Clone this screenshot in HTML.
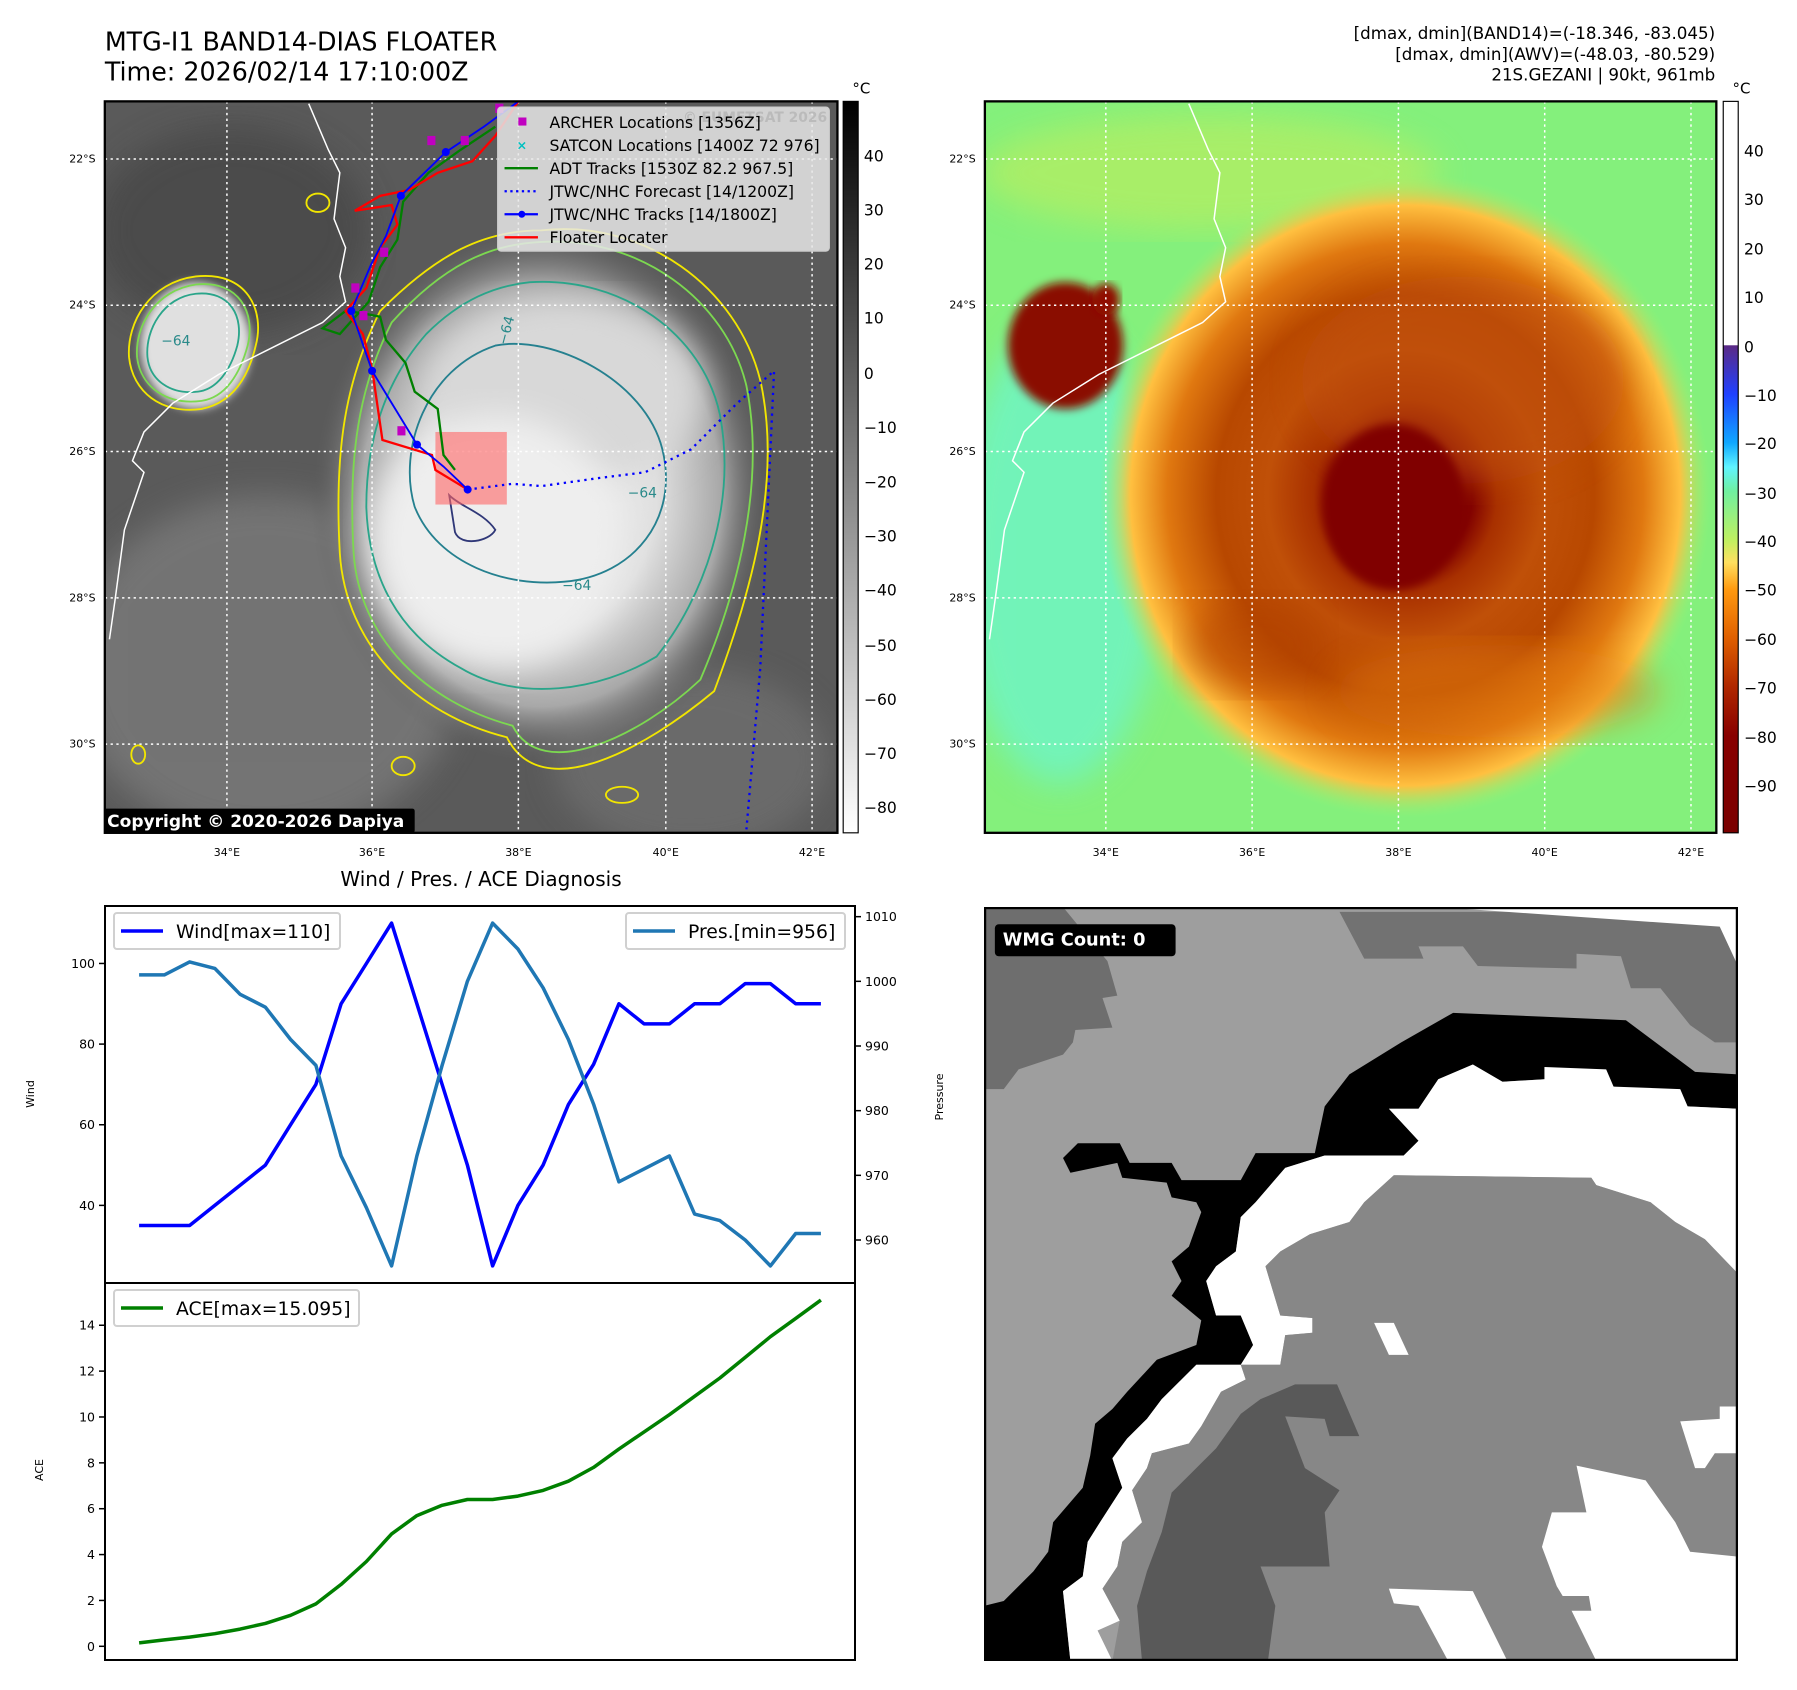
<!DOCTYPE html>
<html><head><meta charset="utf-8"><style>
html,body{margin:0;padding:0;background:#fff;}
svg{display:block;font-family:"DejaVu Sans","Liberation Sans",sans-serif;}
</style></head><body>
<svg id="root" width="1797" height="1690" viewBox="0 0 1797 1690" xmlns="http://www.w3.org/2000/svg">
<defs>
<filter id="blur8"><feGaussianBlur stdDeviation="8"/></filter>
<filter id="blur4"><feGaussianBlur stdDeviation="4"/></filter>
<filter id="blur14"><feGaussianBlur stdDeviation="14"/></filter>
<clipPath id="clipL"><rect x="91" y="88" width="636" height="635"/></clipPath>
<clipPath id="clipR"><rect x="855" y="88" width="635" height="635"/></clipPath>
<clipPath id="clipW"><rect x="0" y="0" width="1527" height="1532"/></clipPath>
<radialGradient id="cloud" cx="0.5" cy="0.5" r="0.5">
<stop offset="0" stop-color="#f4f4f4"/><stop offset="0.5" stop-color="#e0e0e0"/><stop offset="0.78" stop-color="#a8a8a8"/><stop offset="1" stop-color="#5a5a5a" stop-opacity="0"/></radialGradient>
<radialGradient id="storm" cx="0.5" cy="0.5" r="0.5">
<stop offset="0" stop-color="#800000"/><stop offset="0.22" stop-color="#820200"/><stop offset="0.3" stop-color="#a83000"/><stop offset="0.45" stop-color="#c05008"/><stop offset="0.62" stop-color="#b84800"/><stop offset="0.78" stop-color="#e07810"/><stop offset="0.9" stop-color="#ffc040"/><stop offset="1" stop-color="#a0f070" stop-opacity="0"/></radialGradient>
<linearGradient id="cbL" x1="0" y1="0" x2="0" y2="1"><stop offset="0" stop-color="#000"/><stop offset="1" stop-color="#fff"/></linearGradient>
<linearGradient id="cbR" x1="0" y1="0" x2="0" y2="1">
<stop offset="0" stop-color="#fff"/><stop offset="0.333" stop-color="#fff"/><stop offset="0.334" stop-color="#5b2a86"/><stop offset="0.4" stop-color="#2040ff"/><stop offset="0.467" stop-color="#10a8ff"/><stop offset="0.5" stop-color="#60f4ff"/><stop offset="0.533" stop-color="#70f0a0"/><stop offset="0.6" stop-color="#c0f060"/><stop offset="0.63" stop-color="#ffe060"/><stop offset="0.667" stop-color="#ff9a10"/><stop offset="0.733" stop-color="#e06000"/><stop offset="0.8" stop-color="#b02800"/><stop offset="0.867" stop-color="#880000"/><stop offset="1" stop-color="#7a0000"/></linearGradient>
</defs>

<g transform="scale(1.1519)">
<text x="91" y="44" font-size="22">MTG-I1 BAND14-DIAS FLOATER</text>
<text x="91" y="70" font-size="22">Time: 2026/02/14 17:10:00Z</text>
<g font-size="14.5" text-anchor="end">
<text x="1489" y="34">[dmax, dmin](BAND14)=(-18.346, -83.045)</text>
<text x="1489" y="52">[dmax, dmin](AWV)=(-48.03, -80.529)</text>
<text x="1489" y="70">21S.GEZANI | 90kt, 961mb</text>
</g>

<!-- LEFT MAP -->
<g clip-path="url(#clipL)">
<rect x="91" y="88" width="636" height="635" fill="#5a5a5a"/>
<ellipse cx="230" cy="580" rx="170" ry="150" fill="#858585" opacity="0.6" filter="url(#blur14)"/>
<ellipse cx="600" cy="660" rx="120" ry="80" fill="#767676" opacity="0.6" filter="url(#blur14)"/>
<ellipse cx="200" cy="200" rx="120" ry="90" fill="#444" opacity="0.7" filter="url(#blur14)"/>
<ellipse cx="470" cy="430" rx="200" ry="235" fill="url(#cloud)"/>
<ellipse cx="490" cy="340" rx="120" ry="80" fill="#d8d8d8" filter="url(#blur14)"/>
<ellipse cx="430" cy="470" rx="110" ry="110" fill="#eeeeee" filter="url(#blur14)"/>
<ellipse cx="170" cy="300" rx="48" ry="55" fill="#e0e0e0" filter="url(#blur4)"/>
<g fill="none" stroke-width="1.6">
<path d="M470 200 C560 190 640 250 660 330 C680 420 650 520 620 600 C560 650 470 700 440 640 C360 620 300 560 295 480 C290 390 300 330 330 270 C380 220 420 200 470 200Z" stroke="#f2e600"/>
<path d="M470 210 C555 205 630 260 648 335 C665 420 640 515 608 590 C555 640 470 680 445 630 C370 610 312 555 307 480 C302 395 312 335 340 280 C385 230 425 212 470 210Z" stroke="#7cd850"/>
<path d="M460 245 C540 240 610 290 625 360 C640 440 610 520 570 570 C520 600 450 610 400 580 C345 550 320 500 318 440 C318 380 335 330 370 290 C400 260 430 248 460 245Z" stroke="#2aa58a"/>
<path d="M430 300 C480 290 560 330 575 390 C590 450 550 500 490 505 C440 510 380 490 360 440 C345 390 370 320 430 300Z" stroke="#25808f"/>
<path d="M390 430 C400 440 420 445 430 460 C425 470 400 475 395 462 Z" stroke="#303878"/>
<path d="M170 240 C215 235 230 270 222 300 C215 330 200 350 175 355 C140 360 115 340 112 310 C110 280 130 245 170 240Z" stroke="#f2e600"/>
<path d="M170 247 C208 243 222 272 215 300 C208 326 195 345 175 348 C145 352 122 336 119 310 C117 283 135 252 170 247Z" stroke="#7cd850"/>
<path d="M170 255 C200 252 212 275 206 300 C200 322 188 338 172 340 C148 343 130 330 128 310 C126 286 142 258 170 255Z" stroke="#2aa58a"/>
<ellipse cx="276" cy="176" rx="10" ry="8" stroke="#f2e600"/>
<ellipse cx="540" cy="690" rx="14" ry="7" stroke="#f2e600"/>
<ellipse cx="350" cy="665" rx="10" ry="8" stroke="#f2e600"/>
<ellipse cx="120" cy="655" rx="6" ry="8" stroke="#f2e600"/>
</g>
<g font-size="12" fill="#2a8a8a"><text x="440" y="300" transform="rotate(-75 440 300)">−64</text><text x="545" y="432">−64</text><text x="488" y="512">−64</text><text x="140" y="300">−64</text></g>
<g stroke="#fff" stroke-width="1.3" stroke-dasharray="2,3">
<line x1="197" y1="88" x2="197" y2="723"/><line x1="323" y1="88" x2="323" y2="723"/><line x1="450" y1="88" x2="450" y2="723"/><line x1="578" y1="88" x2="578" y2="723"/><line x1="705" y1="88" x2="705" y2="723"/>
<line x1="91" y1="138" x2="727" y2="138"/><line x1="91" y1="265" x2="727" y2="265"/><line x1="91" y1="392" x2="727" y2="392"/><line x1="91" y1="519" x2="727" y2="519"/><line x1="91" y1="646" x2="727" y2="646"/>
</g>
<path d="M268 90 L285 130 L295 150 L290 190 L300 215 L295 240 L300 262 L280 280 L230 305 L190 325 L150 350 L125 375 L115 400 L125 410 L108 460 L100 520 L95 555" fill="none" stroke="#fff" stroke-width="1.3"/>
<rect x="378" y="375" width="62" height="63" fill="#ff6666" opacity="0.6"/>
<path d="M406 425 L445 420 L470 422 L520 415 L560 410 L600 390 L640 350 L672 322 L660 580 L648 720" fill="none" stroke="#0000ff" stroke-width="2" stroke-dasharray="2,4"/>
<path d="M395 408 L385 395 L380 355 L360 340 L352 315 L335 295 L330 275 L315 272 L300 270 L280 285 L295 290 L320 262 L330 232 L345 208 L350 175 L372 150 L400 130 L430 110" fill="none" stroke="#008000" stroke-width="2"/>
<path d="M406 425 L378 408 L375 395 L332 382 L323 320 L315 290 L300 270 L318 250 L330 215 L345 195 L340 178 L308 183 L330 170 L355 165 L380 150 L410 140 L430 118 L450 88" fill="none" stroke="#ff0000" stroke-width="2"/>
<g><path d="M406 425 L385 405 L362 386 L323 322 L305 270 L322 230 L335 205 L348 170 L387 132 L420 110 L450 88" fill="none" stroke="#0000ff" stroke-width="1.6"/>
<g fill="#0000ff"><circle cx="406" cy="425" r="3.5"/><circle cx="362" cy="386" r="3.5"/><circle cx="323" cy="322" r="3.5"/><circle cx="305" cy="270" r="3.5"/><circle cx="348" cy="170" r="3.5"/><circle cx="387" cy="132" r="3.5"/></g></g>
<g fill="#c000c0"><rect x="371" y="118" width="7" height="8"/><rect x="400" y="118" width="7" height="8"/><rect x="305" y="246" width="7" height="8"/><rect x="312" y="270" width="7" height="8"/><rect x="345" y="370" width="7" height="8"/><rect x="330" y="215" width="7" height="8"/><rect x="430" y="90" width="7" height="8"/></g>
<g>
<rect x="432" y="93" width="288" height="125" rx="3" fill="#e8e8e8" fill-opacity="0.85" stroke="#ccc"/>
<text x="718" y="106" font-size="12" font-weight="bold" fill="#bbb" text-anchor="end">© EUMETSAT 2026</text>
<rect x="450" y="102" width="7" height="7" fill="#c000c0"/>
<text x="453" y="130" font-size="11" fill="#00c0c0" text-anchor="middle" font-weight="bold">×</text>
<line x1="438" y1="146" x2="467" y2="146" stroke="#008000" stroke-width="2"/>
<line x1="438" y1="166" x2="467" y2="166" stroke="#0000ff" stroke-width="2" stroke-dasharray="2,3"/>
<line x1="438" y1="186" x2="467" y2="186" stroke="#0000ff" stroke-width="2"/><circle cx="453" cy="186" r="3" fill="#0000ff"/>
<line x1="438" y1="206" x2="467" y2="206" stroke="#ff0000" stroke-width="2"/>
<g font-size="13.6" fill="#000"><text x="477" y="111">ARCHER Locations [1356Z]</text><text x="477" y="131">SATCON Locations [1400Z 72 976]</text><text x="477" y="151">ADT Tracks [1530Z 82.2 967.5]</text><text x="477" y="171">JTWC/NHC Forecast [14/1200Z]</text><text x="477" y="191">JTWC/NHC Tracks [14/1800Z]</text><text x="477" y="211">Floater Locater</text></g>
</g>
<rect x="90" y="702" width="270" height="21" rx="2" fill="#000"/>
<text x="93" y="718" font-size="14.8" font-weight="bold" fill="#fff">Copyright © 2020-2026 Dapiya</text>
</g>
<rect x="91" y="88" width="636" height="635" fill="none" stroke="#000" stroke-width="2"/>
<g font-size="9.5" text-anchor="end"><text x="83" y="141">22°S</text><text x="83" y="268">24°S</text><text x="83" y="395">26°S</text><text x="83" y="522">28°S</text><text x="83" y="649">30°S</text></g>
<g font-size="9.5" text-anchor="middle"><text x="197" y="743">34°E</text><text x="323" y="743">36°E</text><text x="450" y="743">38°E</text><text x="578" y="743">40°E</text><text x="705" y="743">42°E</text></g>
<g>
<rect x="732" y="88" width="13" height="635" fill="url(#cbL)" stroke="#000" stroke-width="1"/>
<text x="740" y="81" font-size="13">°C</text>
<g font-size="13.5"><text x="750" y="140">40</text><text x="750" y="187">30</text><text x="750" y="234">20</text><text x="750" y="281">10</text><text x="750" y="329">0</text><text x="750" y="376">−10</text><text x="750" y="423">−20</text><text x="750" y="470">−30</text><text x="750" y="517">−40</text><text x="750" y="565">−50</text><text x="750" y="612">−60</text><text x="750" y="659">−70</text><text x="750" y="706">−80</text></g>
</g>

<!-- RIGHT MAP -->
<g clip-path="url(#clipR)">
<rect x="855" y="88" width="635" height="635" fill="#84f07c"/>
<ellipse cx="920" cy="480" rx="90" ry="200" fill="#6ef4c8" filter="url(#blur14)" opacity="0.8"/>
<ellipse cx="1050" cy="150" rx="200" ry="50" fill="#b8ee60" filter="url(#blur14)" opacity="0.7"/>
<ellipse cx="1220" cy="430" rx="265" ry="280" fill="url(#storm)"/>
<ellipse cx="1270" cy="330" rx="140" ry="90" fill="#c05008" filter="url(#blur14)" opacity="0.6"/>
<ellipse cx="1210" cy="440" rx="62" ry="72" fill="#800000" filter="url(#blur4)"/>
<ellipse cx="1090" cy="560" rx="60" ry="40" fill="#b04000" filter="url(#blur14)" opacity="0.5"/>
<ellipse cx="1300" cy="600" rx="140" ry="40" fill="#e07810" filter="url(#blur14)" opacity="0.5"/>
<ellipse cx="925" cy="300" rx="50" ry="55" fill="#8a0a00" filter="url(#blur4)"/>
<ellipse cx="960" cy="260" rx="12" ry="14" fill="#900800" filter="url(#blur4)"/>
<g stroke="#fff" stroke-width="1.3" stroke-dasharray="2,3">
<line x1="960" y1="88" x2="960" y2="723"/><line x1="1087" y1="88" x2="1087" y2="723"/><line x1="1214" y1="88" x2="1214" y2="723"/><line x1="1341" y1="88" x2="1341" y2="723"/><line x1="1468" y1="88" x2="1468" y2="723"/>
<line x1="855" y1="138" x2="1490" y2="138"/><line x1="855" y1="265" x2="1490" y2="265"/><line x1="855" y1="392" x2="1490" y2="392"/><line x1="855" y1="519" x2="1490" y2="519"/><line x1="855" y1="646" x2="1490" y2="646"/>
</g>
<path d="M1032 90 L1049 130 L1059 150 L1054 190 L1064 215 L1059 240 L1064 262 L1044 280 L994 305 L954 325 L914 350 L889 375 L879 400 L889 410 L872 460 L864 520 L859 555" fill="none" stroke="#fff" stroke-width="1.3"/>
</g>
<rect x="855" y="88" width="635" height="635" fill="none" stroke="#000" stroke-width="2"/>
<g font-size="9.5" text-anchor="end"><text x="847" y="141">22°S</text><text x="847" y="268">24°S</text><text x="847" y="395">26°S</text><text x="847" y="522">28°S</text><text x="847" y="649">30°S</text></g>
<g font-size="9.5" text-anchor="middle"><text x="960" y="743">34°E</text><text x="1087" y="743">36°E</text><text x="1214" y="743">38°E</text><text x="1341" y="743">40°E</text><text x="1468" y="743">42°E</text></g>
<g>
<rect x="1496" y="88" width="13" height="635" fill="url(#cbR)" stroke="#000" stroke-width="1"/>
<text x="1504" y="81" font-size="13">°C</text>
<g font-size="13.5"><text x="1514" y="136">40</text><text x="1514" y="178">30</text><text x="1514" y="221">20</text><text x="1514" y="263">10</text><text x="1514" y="306">0</text><text x="1514" y="348">−10</text><text x="1514" y="390">−20</text><text x="1514" y="433">−30</text><text x="1514" y="475">−40</text><text x="1514" y="517">−50</text><text x="1514" y="560">−60</text><text x="1514" y="602">−70</text><text x="1514" y="645">−80</text><text x="1514" y="687">−90</text></g>
</g>
</g>

<!-- WMG panel -->
<svg x="984" y="907" width="754" height="754" viewBox="0 0 1527 1532" preserveAspectRatio="none">
<g clip-path="url(#clipW)">
<rect x="0" y="0" width="1527" height="1532" fill="#9e9e9e"/>
<polygon fill="#6e6e6e" points="0,0 160,0 250,110 270,180 240,185 260,245 185,250 180,275 160,300 70,330 40,370 0,370"/>
<polygon fill="#727272" points="560,10 720,10 770,105 890,105 880,80 970,80 1000,120 1200,125 1200,95 1290,100 1310,165 1370,165 1430,240 1480,275 1527,275 1527,10"/>
<polygon fill="#fff" points="920,0 1527,0 1527,120 1490,40"/>
<polygon fill="#000" points="160,510 190,480 275,480 295,520 380,520 400,555 520,555 550,500 670,500 690,405 740,340 845,275 950,215 1300,230 1440,335 1527,340 1527,410 1425,405 1275,365 1135,350 1050,355 990,320 920,350 880,410 820,410 880,475 850,505 690,505 610,530 550,600 520,630 510,700 470,730 450,760 470,830 520,830 545,890 520,930 430,930 360,1000 330,1040 290,1080 260,1120 280,1180 235,1250 210,1290 200,1360 160,1390 175,1532 0,1532 0,1420 40,1410 100,1350 130,1310 140,1250 170,1215 200,1180 215,1115 225,1050 260,1020 290,985 350,920 430,890 440,840 380,790 400,760 380,720 415,690 440,620 430,600 380,590 370,560 280,550 270,520 175,540"/>
<polygon fill="#fff" points="820,410 880,410 920,350 990,320 1050,355 1135,350 1135,325 1260,330 1275,365 1410,370 1425,405 1527,410 1527,745 1460,675 1400,640 1350,600 1240,565 1230,550 830,545 770,600 740,640 660,665 600,700 570,730 600,830 665,835 665,865 610,870 600,930 520,930 545,890 520,830 470,830 450,760 470,730 510,700 520,630 550,600 610,530 690,505 850,505 880,475"/>
<polygon fill="#fff" points="430,930 520,930 530,960 480,985 460,1020 440,1055 415,1090 340,1110 330,1140 300,1185 320,1250 280,1290 270,1340 240,1385 275,1450 230,1470 260,1532 175,1532 160,1390 200,1360 210,1290 235,1250 280,1180 260,1120 290,1080 330,1040 360,1000"/>
<polygon fill="#878787" points="830,545 1230,550 1240,565 1350,600 1400,640 1460,675 1527,745 1527,1532 260,1532 275,1450 240,1385 270,1340 280,1290 320,1250 300,1185 330,1140 340,1110 415,1090 440,1055 460,1020 480,985 530,960 520,930 600,930 610,870 665,865 665,835 600,830 570,730 600,700 660,665 740,640 770,600"/>
<polygon fill="#595959" points="630,970 715,970 760,1075 700,1075 690,1040 610,1035 650,1140 720,1185 690,1230 700,1340 560,1340 590,1420 575,1532 320,1532 310,1420 330,1350 360,1270 380,1190 420,1150 470,1100 520,1030 560,1000"/>
<polygon fill="#fff" points="790,845 830,845 860,910 820,910"/>
<polygon fill="#fff" points="1200,1135 1340,1165 1400,1250 1430,1310 1527,1320 1527,1532 1240,1532 1190,1430 1160,1380 1130,1300 1150,1230 1220,1230"/>
<polygon fill="#fff" points="820,1385 990,1390 1060,1532 940,1532 880,1420 830,1415"/>
<polygon fill="#fff" points="1410,1045 1490,1040 1490,1015 1527,1015 1527,1110 1480,1110 1460,1140 1440,1140"/>
<polygon fill="#878787" points="1130,1400 1225,1400 1230,1430 1165,1430"/>
</g>
<rect x="2" y="2" width="1523" height="1528" fill="none" stroke="#000" stroke-width="5"/>
<rect x="22" y="35" width="366" height="65" rx="8" fill="#000"/>
<text x="38" y="78" font-size="36" font-weight="bold" fill="#fff">WMG Count: 0</text>
</svg>

<text x="481" y="886" font-size="20" text-anchor="middle">Wind / Pres. / ACE Diagnosis</text>
<g id="chart"></g>
</svg>
<script>
const windVals = [35,35,35,40,45,50,60,70,90,100,110,90,70,50,25,40,50,65,75,90,85,85,90,90,95,95,90,90];
const presVals = [1001,1001,1003,1002,998,996,991,987,973,965,956,973,987,1000,1009,1005,999,991,981,969,971,973,964,963,960,956,961,961];
const aceVals = [0.15,0.28,0.40,0.55,0.75,1.0,1.35,1.85,2.7,3.7,4.9,5.7,6.15,6.4,6.4,6.55,6.8,7.2,7.8,8.6,9.35,10.1,10.9,11.7,12.6,13.5,14.3,15.095];
const windTicks = [40,60,80,100];
const presTicks = [960,970,980,990,1000,1010];
const aceTicks = [0,2,4,6,8,10,12,14];

const NS = "http://www.w3.org/2000/svg";
const chart = document.getElementById('chart');
const X0 = 105, X1 = 855, T0 = 906, T1 = 1283, B1 = 1660;
function mk(tag, attrs, parent){ const e=document.createElementNS(NS,tag); for(const k in attrs) e.setAttribute(k,attrs[k]); (parent||chart).appendChild(e); return e; }
function lim(arr){ const mn=Math.min(...arr), mx=Math.max(...arr), m=(mx-mn)*0.05; return [mn-m, mx+m]; }
const n = windVals.length;
const xs = i => X0 + (i + (n-1)*0.05) / ((n-1)*1.1) * (X1-X0);
const wl = lim(windVals), pl = lim(presVals), al = lim(aceVals);
const yW = v => T0 + (wl[1]-v)/(wl[1]-wl[0])*(T1-T0);
const yP = v => T0 + (pl[1]-v)/(pl[1]-pl[0])*(T1-T0);
const yA = v => T1 + (al[1]-v)/(al[1]-al[0])*(B1-T1);

function line(vals, yf, color, w, name){
  const p = mk('polyline',{points: vals.map((v,i)=>xs(i).toFixed(1)+','+yf(v).toFixed(1)).join(' '), fill:'none', stroke:color, 'stroke-width':w, 'stroke-linejoin':'round'});
  
  
}
function ticks(arr, yf, side, name){
  arr.forEach(v=>{
    const y=yf(v);
    const x = side==='l'?X0:X1;
    const d = side==='l'?-6:6;
    const t = mk('line',{x1:x,y1:y,x2:x+d,y2:y,stroke:'#000','stroke-width':1.5});
    
    
    const tx = mk('text',{x: side==='l'?x-10:x+10, y:y+4.5, 'font-size':12.5, 'text-anchor': side==='l'?'end':'start'});
    tx.textContent = v;
    
    
  });
}
line(windVals, yW, '#0000ff', 3.5, 'wind-line');
line(presVals, yP, '#1f77b4', 3.5, 'pressure-line');
line(aceVals, yA, '#008000', 3.5, 'ace-line');
ticks(windTicks, yW, 'l', 'wind-axis');
ticks(presTicks, yP, 'r', 'pressure-axis');
ticks(aceTicks, yA, 'l', 'ace-axis');
const f1 = mk('rect',{x:X0,y:T0,width:X1-X0,height:T1-T0,fill:'none',stroke:'#000','stroke-width':2});


const f2 = mk('rect',{x:X0,y:T1,width:X1-X0,height:B1-T1,fill:'none',stroke:'#000','stroke-width':2});


function ylabel(txt,x,y,name){ const t=mk('text',{x:x,y:y,'font-size':11,'text-anchor':'middle',transform:'rotate(-90 '+x+' '+y+')'}); t.textContent=txt;   }
ylabel('Wind', 34, 1094, 'wind-axis-title');
ylabel('Pressure', 943, 1097, 'pressure-axis-title');
ylabel('ACE', 43, 1470, 'ace-axis-title');
function legend(x,y,w,color,label,name){
  const g = mk('g',{});
  
  
  mk('rect',{x:x,y:y,width:w,height:36,rx:3,fill:'#fff','fill-opacity':0.85,stroke:'#d0d0d0','stroke-width':2},g);
  mk('line',{x1:x+7,y1:y+18,x2:x+49,y2:y+18,stroke:color,'stroke-width':3.5},g);
  const t = mk('text',{x:x+62,y:y+25,'font-size':18.8},g); t.textContent=label;
}
legend(114, 913, 226, '#0000ff', 'Wind[max=110]', 'wind-legend');
legend(626, 913, 219, '#1f77b4', 'Pres.[min=956]', 'pressure-legend');
legend(114, 1290, 245, '#008000', 'ACE[max=15.095]', 'ace-legend');
</script>
</body></html>
